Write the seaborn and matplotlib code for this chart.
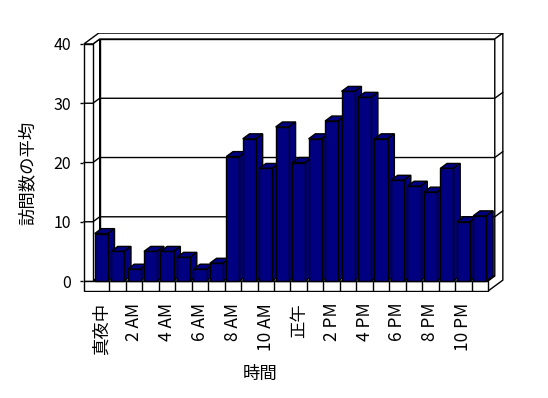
import matplotlib
matplotlib.use('Agg')
import matplotlib.pyplot as plt
import seaborn as sns
import pandas as pd
from matplotlib.patches import Polygon, Rectangle

# ---- data ----
hours = ['真夜中', '1 AM', '2 AM', '3 AM', '4 AM', '5 AM', '6 AM', '7 AM',
         '8 AM', '9 AM', '10 AM', '11 AM', '正午', '1 PM', '2 PM', '3 PM',
         '4 PM', '5 PM', '6 PM', '7 PM', '8 PM', '9 PM', '10 PM', '11 PM']
visits = [8, 5, 2, 5, 5, 4, 2, 3, 21, 24, 19, 26,
          20, 24, 27, 32, 31, 24, 17, 16, 15, 19, 10, 11]
tick_labels = hours[::2]
y_ticks = [0, 10, 20, 30, 40]
x_label = '時間'
y_label = '訪問数の平均'

sns.set_theme(style='white', rc={'text.color': 'black', 'axes.labelcolor': 'black',
                                 'xtick.color': 'black', 'ytick.color': 'black'})
plt.rcParams['font.family'] = ['Noto Sans CJK JP', 'DejaVu Sans']

fig = plt.figure(figsize=(5.48, 3.98), dpi=100)
ax = fig.add_axes([0.1516, 0.2671, 0.769, 0.6492])

df = pd.DataFrame({'hour': hours, 'visits': visits})
sns.barplot(data=df, x='hour', y='visits', order=hours, color='#000080',
            saturation=1, width=0.8, edgecolor='black', linewidth=1, ax=ax)

# ---- pseudo-3D geometry (data units) ----
X0, X1 = -0.5, len(hours) - 0.5
TOP = y_ticks[-1]
W, F = 0.55, 1.69          # left wall / floor thickness
dx, dy = 0.41, 0.84         # depth of bar area
Tx, Ty = 0.49, 1.0          # back wall thickness
lw = 1.0
wall_kw = dict(facecolor='white', edgecolor='black', linewidth=lw, zorder=1)

# back wall inner face
ax.add_patch(Rectangle((X0 + dx, dy), X1 - X0, TOP, **wall_kw))
# left wall inner face
ax.add_patch(Polygon([(X0, 0), (X0, TOP), (X0 + dx, TOP + dy), (X0 + dx, dy)], **wall_kw))
# floor top surface
ax.add_patch(Polygon([(X0, 0), (X1, 0), (X1 + dx, dy), (X0 + dx, dy)], **wall_kw))
# top of walls (L shape)
ax.add_patch(Polygon([(X0 - W, TOP), (X0, TOP), (X0 + dx, TOP + dy), (X1 + dx, TOP + dy),
                      (X1 + dx + Tx, TOP + dy + Ty), (X0 - W + dx + Tx, TOP + dy + Ty)], **wall_kw))
# right end faces of back wall and floor
ax.add_patch(Polygon([(X1 + dx, TOP + dy), (X1 + dx + Tx, TOP + dy + Ty),
                      (X1 + dx + Tx, -F + dy + Ty), (X1, -F), (X1, 0), (X1 + dx, dy)], **wall_kw))
# left wall front face and floor front face
ax.add_patch(Rectangle((X0 - W, 0), W, TOP, **wall_kw))
ax.add_patch(Rectangle((X0 - W, -F), X1 - X0 + W, F, **wall_kw))

# gridlines
for v in y_ticks[1:-1]:
    ax.plot([X0 - W, X0, X0 + dx, X1 + dx, X1 + dx + Tx],
            [v, v, v + dy, v + dy, v + dy + Ty], color='black', lw=lw, zorder=1.5)
# floor dividers
for k in range(1, len(hours)):
    ax.plot([k - 0.5, k - 0.5], [-F, 0], color='black', lw=lw, zorder=1.5)

# bar tops and sides
for p in ax.patches[:]:
    if not isinstance(p, Rectangle) or p.get_facecolor()[:3] == (1.0, 1.0, 1.0):
        continue
    x, w, h = p.get_x(), p.get_width(), p.get_height()
    if w > 1.5:
        continue
    p.set_zorder(3)
    top = Polygon([(x, h), (x + w, h), (x + w + dx, h + dy), (x + dx, h + dy)],
                  facecolor='#000080', edgecolor='black', linewidth=lw, zorder=2)
    side = Polygon([(x + w, 0), (x + w, h), (x + w + dx, h + dy), (x + w + dx, dy)],
                   facecolor='#000080', edgecolor='black', linewidth=lw, zorder=2)
    ax.add_patch(top)
    ax.add_patch(side)

ax.set_xlim(-1.1, 24.5)
ax.set_ylim(-1.8, 41.8)
for s in ax.spines.values():
    s.set_visible(False)

ax.set_xticks(range(0, len(hours), 2))
ax.set_xticklabels(tick_labels, rotation=90, fontsize=12.5)
ax.tick_params(axis='x', bottom=False, length=0, pad=8)
ax.set_yticks(y_ticks)
ax.set_yticklabels([str(v) for v in y_ticks], fontsize=11.5)
ax.tick_params(axis='y', left=True, length=2, width=1, pad=6.5)

ax.set_xlabel(x_label, fontsize=12.5, va='center')
ax.xaxis.set_label_coords(0.42, -0.318)
ax.set_ylabel(y_label, fontsize=12.5, va='center')
ax.yaxis.set_label_coords(-0.131, 0.459)

fig.savefig('out.png', dpi=100)
